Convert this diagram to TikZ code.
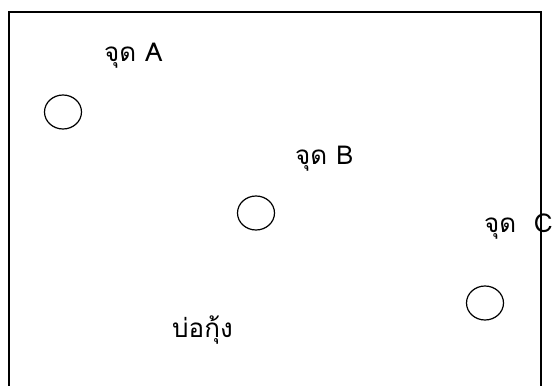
\documentclass[tikz,border=0pt]{standalone}
\usepackage{fontspec}
\setmainfont[Script=Thai]{Loma}
\usetikzlibrary{positioning, shapes.geometric}

\begin{document}
\begin{tikzpicture}[x=1pt, y=1pt,
  spot/.style={draw, line width=1.2pt, ellipse, minimum width=37pt, minimum height=34pt, inner sep=0pt},
  txt/.style={anchor=base west, inner sep=0pt, font=\fontsize{26}{30}\selectfont}]
\useasboundingbox (0,0) rectangle (553,385);
\clip (0,0) rectangle (553,385);

% Pond border
\draw[line width=1.8pt] (9,-20) rectangle (541,373);

% Points
\node[spot] (ptA) at (63,273) {};
\node[spot] (ptB) at (256,172) {};
\node[spot] (ptC) at (485,82) {};

% Labels
\node[txt] (labA) at (104,323) {จุด A};
\node[txt] (labB) at (295,220) {จุด B};
\node[txt] (labC) at (484,152) {จุด~~C};
\node[txt] (pond) at (172,48) {บ่อกุ้ง};
\end{tikzpicture}
\end{document}
